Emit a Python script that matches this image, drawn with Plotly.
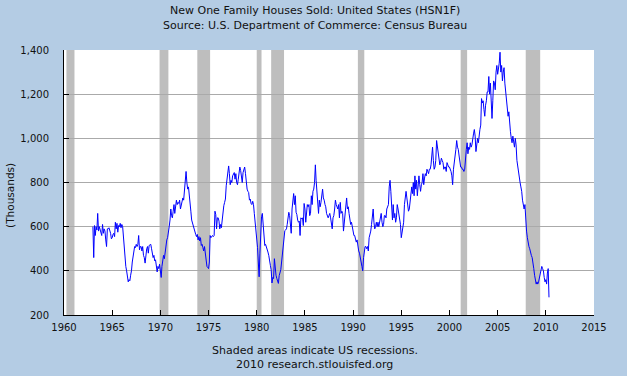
import plotly.graph_objects as go
import pandas as pd

# New one family houses sold (thousands, SAAR), monthly
sales_1960s = [
    600, 460, 605, 560, 600, 585, 660, 580, 600, 590, 575, 560,   # 1963
    610, 570, 590, 580, 540, 510, 590, 590, 595, 585, 570, 545,   # 1964
    550, 565, 570, 555, 620, 590, 615, 575, 605, 600, 615, 595,   # 1965
    610, 600, 550, 530, 480, 420, 400, 380, 350, 360, 355, 380,   # 1966
    400, 440, 470, 500, 510, 505, 520, 510, 520, 560, 495, 510,   # 1967
    510, 490, 510, 470, 460, 435, 480, 500, 510, 480, 515, 520,   # 1968
    520, 500, 480, 460, 470, 445, 450, 410, 395, 420, 410, 430,   # 1969
]
sales_1970s = [
    390, 370, 420, 465, 470, 455, 490, 520, 540, 550, 570, 600,   # 1970
    630, 680, 650, 640, 670, 700, 660, 690, 720, 700, 710, 705,   # 1971
    720, 680, 700, 720, 730, 720, 760, 780, 850, 800, 770, 780,   # 1972
    750, 720, 670, 630, 615, 600, 585, 570, 565, 555, 565, 540,   # 1973
    555, 535, 550, 515, 520, 505, 490, 510, 475, 460, 420, 415,   # 1974
    410, 440, 560, 550, 555, 560, 555, 560, 670, 655, 590, 640,   # 1975
    640, 625, 590, 610, 595, 625, 680, 695, 710, 725, 785, 815,   # 1976
    860, 875, 840, 790, 810, 800, 830, 840, 845, 815, 840, 800,   # 1977
    790, 815, 860, 870, 855, 815, 800, 845, 860, 870, 840, 800,   # 1978
    770, 760, 755, 720, 725, 705, 700, 715, 700, 660, 620, 575,   # 1979
]
sales_1980s = [
    560, 505, 440, 373, 480, 590, 645, 660, 610, 565, 515, 520,   # 1980
    510, 500, 485, 470, 435, 425, 405, 345, 370, 365, 455, 400,   # 1981
    380, 365, 350, 343, 378, 390, 405, 440, 480, 530, 560, 582,   # 1982
    585, 590, 610, 640, 665, 650, 600, 570, 680, 730, 750, 700,   # 1983
    740, 665, 655, 630, 620, 625, 560, 640, 635, 640, 605, 705,   # 1984
    680, 620, 660, 700, 690, 700, 650, 660, 740, 700, 760, 770,   # 1985
    800, 880, 810, 740, 690, 660, 720, 690, 710, 750, 770, 730,   # 1986
    720, 700, 690, 660, 650, 640, 650, 660, 640, 600, 590, 640,   # 1987
    650, 680, 720, 700, 690, 680, 700, 640, 710, 660, 670, 660,   # 1988
    580, 620, 660, 670, 730, 680, 690, 660, 620, 610, 620, 600,   # 1989
]
sales_1990s = [
    590, 560, 560, 540, 530, 540, 510, 490, 480, 450, 440, 420,   # 1990
    400, 460, 480, 510, 510, 500, 510, 490, 550, 560, 580, 610,   # 1991
    640, 680, 620, 590, 600, 620, 600, 620, 600, 620, 640, 660,   # 1992
    620, 600, 610, 650, 650, 640, 680, 690, 700, 780, 810, 760,   # 1993
    690, 630, 700, 640, 660, 620, 640, 700, 680, 650, 620, 610,   # 1994
    550, 580, 600, 620, 700, 740, 760, 730, 690, 670, 680, 720,   # 1995
    740, 780, 750, 800, 740, 830, 770, 810, 740, 820, 830, 790,   # 1996
    760, 790, 800, 840, 790, 820, 840, 830, 860, 850, 840, 860,   # 1997
    860, 880, 910, 960, 900, 860, 870, 900, 990, 960, 920, 900,   # 1998
    880, 890, 910, 900, 890, 860, 870, 870, 850, 890, 880, 870,   # 1999
]
sales_2000s = [
    870, 860, 850, 830, 790, 860, 880, 920, 950, 990, 960, 950,   # 2000
    920, 890, 870, 870, 860, 860, 850, 860, 920, 950, 980, 930,   # 2001
    960, 950, 980, 960, 970, 1010, 1020, 1040, 1010, 940, 980, 1000,   # 2002
    980, 1030, 1040, 1060, 1180, 1160, 1170, 1130, 1100, 1150, 1170, 1210,  # 2003
    1210, 1280, 1200, 1250, 1150, 1090, 1170, 1260, 1250, 1220, 1300, 1330,  # 2004
    1290, 1310, 1340, 1390, 1300, 1330, 1260, 1300, 1320, 1250, 1210, 1170,  # 2005
    1120, 1100, 1120, 1060, 1030, 1000, 980, 1010, 990, 960, 1000, 970,   # 2006
    900, 870, 840, 820, 800, 780, 760, 720, 690, 680, 700, 620,   # 2007
    580, 550, 520, 510, 500, 480, 470, 460, 440, 410, 380, 360,   # 2008
    340, 350, 340, 350, 370, 390, 410, 420, 410, 400, 370, 350,   # 2009
]
sales_2010 = [360, 340, 390, 410, 280]

first_month = "1963-01-01"

recession_starts = ["1960-04-01", "1969-12-01", "1973-11-01", "1980-01-01",
                    "1981-07-01", "1990-07-01", "2001-03-01", "2007-12-01"]
recession_ends = ["1961-02-01", "1970-11-01", "1975-03-01", "1980-07-01",
                  "1982-11-01", "1991-03-01", "2001-11-01", "2009-06-01"]

y_tick_values = [200, 400, 600, 800, 1000, 1200, 1400]
x_tick_years = ["1960", "1965", "1970", "1975", "1980", "1985",
                "1990", "1995", "2000", "2005", "2010", "2015"]

title_line1 = "New One Family Houses Sold: United States (HSN1F)"
title_line2 = "Source: U.S. Department of Commerce: Census Bureau"
note_line1 = "Shaded areas indicate US recessions."
note_line2 = "2010 research.stlouisfed.org"
y_label = "(Thousands)"

values = sales_1960s + sales_1970s + sales_1980s + sales_1990s + sales_2000s + sales_2010
dates = pd.date_range(first_month, periods=len(values), freq="MS")

BG = "#B4CCE4"
FONT = "DejaVu Sans"
TXT = "#111111"

fig = go.Figure()
fig.add_trace(go.Scatter(x=dates, y=values, mode="lines",
                         line=dict(color="#0000FF", width=1),
                         hoverinfo="skip"))

for s, e in zip(recession_starts, recession_ends):
    fig.add_shape(type="rect", xref="x", yref="paper", x0=s, x1=e, y0=0, y1=1,
                  fillcolor="#BEBEBE", line=dict(width=0), layer="between")

fig.update_layout(
    width=627, height=376,
    margin=dict(l=64, r=33, t=50, b=61),
    paper_bgcolor=BG, plot_bgcolor="white",
    showlegend=False,
    font=dict(family=FONT, size=10, color=TXT),
)

fig.update_xaxes(
    type="date",
    range=["1960-01-01", "2015-01-01"],
    tickvals=[y + "-01-01" for y in x_tick_years],
    ticktext=x_tick_years,
    ticks="inside", ticklen=5, tickcolor="black", tickwidth=1,
    showline=True, linecolor="black", linewidth=1,
    showgrid=False, zeroline=False,
    tickfont=dict(family=FONT, size=10, color=TXT),
    ticklabelstandoff=3,
)
fig.update_yaxes(
    range=[200, 1400],
    tickvals=y_tick_values,
    tickformat=",d",
    ticks="inside", ticklen=5, tickcolor="black", tickwidth=1,
    showline=True, linecolor="black", linewidth=1,
    showgrid=True, gridcolor="#AAAAAA", gridwidth=1,
    zeroline=False,
    tickfont=dict(family=FONT, size=10, color=TXT),
    ticklabelstandoff=12,
)

ann = dict(showarrow=False, xref="paper", yref="paper")
big = dict(family=FONT, size=11, color=TXT)
fig.add_annotation(text=title_line1, x=0.473, y=1.150, xanchor="center", yanchor="middle", font=big, **ann)
fig.add_annotation(text=title_line2, x=0.473, y=1.092, xanchor="center", yanchor="middle", font=big, **ann)
fig.add_annotation(text=note_line1, x=0.473, y=-0.135, xanchor="center", yanchor="middle", font=big, **ann)
fig.add_annotation(text=note_line2, x=0.473, y=-0.187, xanchor="center", yanchor="middle", font=big, **ann)
fig.add_annotation(text=y_label, x=-0.102, y=0.453, xanchor="center", yanchor="middle",
                   textangle=-90, font=dict(family=FONT, size=10.5, color=TXT), **ann)

fig.write_html("out.html",
               config={"displayModeBar": False},
               post_script="document.body.style.margin='0px';document.body.style.overflow='hidden';")
